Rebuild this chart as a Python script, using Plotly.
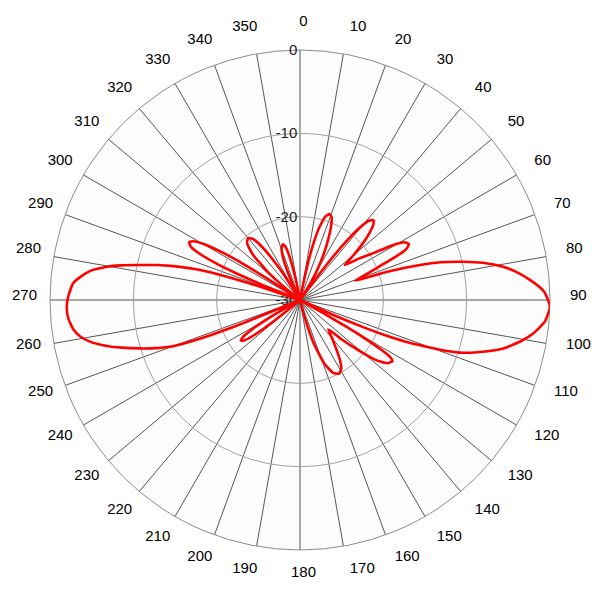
import plotly.graph_objects as go

# Antenna radiation pattern (dB)
angle_deg = [
    0, 9, 11, 12, 13, 14, 15, 17, 19, 21, 23, 25, 27, 29, 31, 33, 35,
    35.8, 36.5, 37.25, 38, 39.5, 41, 42.5, 44, 46, 48.3, 50, 52.1,
    55, 57.7, 59.5, 61, 62.8, 64.5, 65.8, 66.7, 68.5, 70.7,
    72, 73.7, 75, 76.8, 78.5, 80.7, 82.5, 85, 88, 91.5, 95, 98.1, 100.5,
    103.4, 105.5, 107.9, 109.2, 110.6, 111.6, 112.5, 113.3, 114.2, 116,
    119, 119.5, 120, 120.5, 121.5, 122.5, 123.5, 126, 128.5, 131, 133.5, 136,
    140, 143.5, 146, 149, 152, 155.5, 159, 162.5, 164.3, 165.1, 166,
    228, 230.2, 231, 232.5, 234, 235.5, 237, 238.5, 240, 240.8, 241.6,
    247, 248, 249, 250, 251.5, 253.2, 255, 256.6, 258.8, 260.5, 262.5, 265.5,
    268.4, 271, 274.2, 276, 277.9, 279.8, 281, 282.3, 283.7, 285, 286.5,
    287.5, 288.5, 289,
    291.2, 291.9, 292.6, 293.3, 294.7, 296.1, 297.5, 298.9, 300.3, 301.7,
    302.4, 303.1, 303.8,
    308, 309.5, 311, 314, 317, 320, 322.2, 324.4, 326.6, 327.7, 328.8,
    333.9, 335.2, 337.8, 340.4, 343, 344.8, 346.6, 348.4, 349.3, 350, 360,
]
gain_db = [
    -30, -30, -29, -26, -23.7, -22.1, -20.9, -19.5, -19.1, -19.4, -20.5, -22, -23.6, -25.2, -26.8, -28.5, -30,
    -30, -27.2, -23.9, -21.6, -18.8, -17.4, -17.0, -17.3, -18.4, -20.1, -21.6, -23.2,
    -21.3, -19.3, -17.0, -15.7, -15.3, -15.9, -17.6, -19.2, -21.2, -23,
    -19, -15, -12.5, -9.9, -7.6, -5.3, -3.9, -2.3, -0.7, 0, -0.5, -1.7, -3.0,
    -4.9, -6.9, -9.4, -11.5, -14.6, -16.5, -19, -22, -25.6, -30,
    -30, -26.9, -23.6, -21.3, -18.5, -17.1, -16.7, -17.1, -18.5, -21.0, -23.2, -25.1,
    -24, -22.7, -21.5, -20.4, -20.0, -20.4, -21.8, -24.6, -26.9, -28.3, -30,
    -30, -28.3, -26.0, -23.2, -21.8, -21.4, -21.8, -23.2, -26, -28.3, -30,
    -30, -21, -16.5, -13.8, -11.8, -9.9, -7.9, -6.2, -4.3, -3.3, -2.6, -2.1,
    -2.0, -2.2, -2.7, -3.5, -4.6, -6.5, -8.2, -10.3, -12.3, -14.3, -17,
    -20, -25, -30,
    -30, -25.2, -21.9, -19.6, -16.8, -15.4, -15.0, -15.4, -16.8, -19.6,
    -21.9, -25.2, -30,
    -30, -27.2, -24.9, -22.1, -20.7, -20.3, -20.7, -22.1, -24.9, -27.2, -30,
    -30, -27.6, -24.8, -23.4, -23.0, -23.4, -24.8, -27.6, -29.9, -30, -30,
]

angular_ticks = list(range(0, 360, 10))
angular_labels = [str(a) for a in angular_ticks]
radial_ticks = [-30, -20, -10, 0]
radial_labels = ["-30", "-20", "-10", "0"]

FONT = "Liberation Sans, Arial, sans-serif"

fig = go.Figure()
fig.add_trace(go.Scatterpolar(
    r=gain_db,
    theta=angle_deg,
    mode="lines",
    line=dict(color="#ff0000", width=2.6, shape="spline", smoothing=0.5),
    hoverinfo="skip",
    showlegend=False,
    subplot="polar",
))
# invisible carrier trace for the label-only angular axis
fig.add_trace(go.Scatterpolar(
    r=gain_db[:1],
    theta=angle_deg[:1],
    mode="markers",
    marker=dict(opacity=0),
    hoverinfo="skip",
    showlegend=False,
    subplot="polar2",
))

common_ang = dict(
    direction="clockwise",
    rotation=90,
    tickmode="array",
    tickvals=angular_ticks,
    ticktext=angular_labels,
)

fig.update_layout(
    width=600,
    height=600,
    autosize=False,
    margin=dict(l=42, r=50, t=30, b=46),
    paper_bgcolor="white",
    showlegend=False,
    font=dict(family=FONT, size=15, color="black"),
    polar=dict(
        domain=dict(x=[0, 0.98425], y=[0.0229, 0.9771]),
        bgcolor="#fcfcfc",
        angularaxis=dict(
            **common_ang,
            ticks="",
            showticklabels=False,
            showgrid=True,
            gridcolor="#555555",
            gridwidth=1,
            showline=True,
            linecolor="#8c8c8c",
            linewidth=1,
            layer="below traces",
        ),
        radialaxis=dict(
            range=[-30, 0],
            tickmode="array",
            tickvals=radial_ticks,
            ticktext=radial_labels,
            angle=90,
            tickangle=90,
            side="counterclockwise",
            ticks="",
            showline=False,
            showgrid=True,
            gridcolor="#a0a0a0",
            gridwidth=1,
            layer="below traces",
            tickfont=dict(family=FONT, size=15, color="#222222"),
        ),
    ),
    polar2=dict(
        domain=dict(x=[0.00689, 0.99114], y=[0.03244, 0.98664]),
        bgcolor="rgba(0,0,0,0)",
        angularaxis=dict(
            **common_ang,
            ticks="outside",
            ticklen=13,
            tickcolor="rgba(0,0,0,0)",
            showgrid=False,
            showline=False,
            tickfont=dict(family=FONT, size=15, color="black"),
        ),
        radialaxis=dict(visible=False, range=[-30, 0]),
    ),
)

fig.write_html("out.html")
